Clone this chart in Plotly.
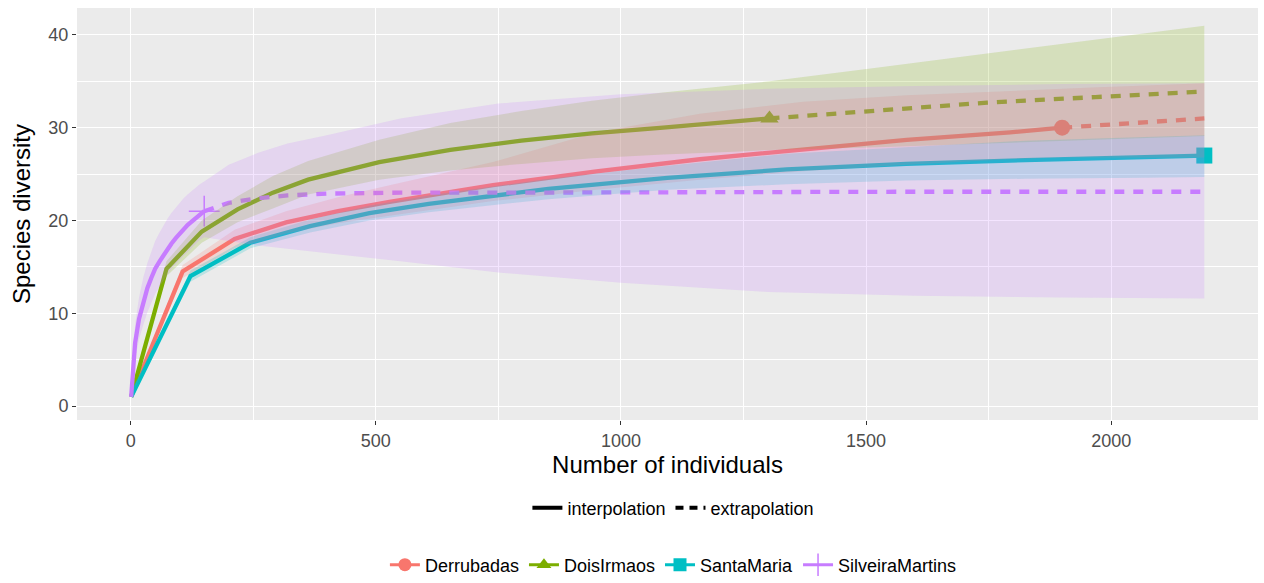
import plotly.graph_objects as go

names = ["Derrubadas", "DoisIrmaos", "SantaMaria", "SilveiraMartins"]
colors = ["#F8766D", "#7CAE00", "#00BFC4", "#C77CFF"]
fills = ["rgba(248,118,109,0.2)", "rgba(124,174,0,0.2)", "rgba(0,191,196,0.2)", "rgba(199,124,255,0.2)"]
symbols = ["circle", "triangle-up", "square", "cross-thin"]

# Derrubadas
d_x_int = [1, 106, 212, 317, 423, 528, 739, 950, 1161, 1372, 1583, 1794, 1900]
d_y_int = [1, 14.5, 18.0, 19.8, 21.0, 22.0, 23.8, 25.3, 26.6, 27.7, 28.7, 29.5, 30.0]
d_lo_int = [1, 13.8, 17.0, 18.6, 19.7, 20.5, 22.1, 23.3, 24.4, 25.3, 26.0, 26.6, 26.8]
d_hi_int = [1, 15.2, 19.0, 21.0, 22.5, 23.8, 26.3, 29.5, 31.5, 32.8, 33.5, 34.0, 34.2]
d_x_ext = [1900, 1973, 2045, 2118, 2190]
d_y_ext = [30.0, 30.25, 30.5, 30.75, 31.0]
d_lo_ext = [26.8, 26.8, 26.8, 26.8, 26.8]
d_hi_ext = [34.2, 34.35, 34.5, 34.65, 34.8]

# DoisIrmaos
g_x_int = [1, 73, 145, 218, 290, 362, 507, 652, 797, 941, 1086, 1231, 1303]
g_y_int = [1, 14.8, 18.8, 21.2, 23.0, 24.4, 26.3, 27.6, 28.6, 29.4, 30.0, 30.6, 31.0]
g_lo_int = [1, 14.0, 17.6, 19.8, 21.3, 22.8, 24.4, 25.4, 26.1, 26.7, 27.1, 27.4, 27.6]
g_hi_int = [1, 15.6, 20.0, 22.6, 24.8, 26.4, 28.7, 30.5, 31.8, 32.9, 33.8, 34.6, 35.0]
g_x_ext = [1303, 1525, 1747, 1968, 2190]
g_y_ext = [31.0, 31.9, 32.7, 33.3, 33.9]
g_lo_ext = [27.6, 27.9, 28.3, 28.7, 29.1]
g_hi_ext = [35.0, 36.5, 38.0, 39.5, 41.0]

# SantaMaria
c_x_int = [1, 122, 244, 366, 487, 608, 852, 1095, 1338, 1582, 1825, 2068, 2190]
c_y_int = [1, 14.0, 17.6, 19.4, 20.8, 21.8, 23.4, 24.6, 25.5, 26.1, 26.5, 26.8, 27.0]
c_lo_int = [1, 13.4, 17.0, 18.7, 20.0, 20.9, 22.3, 23.3, 23.9, 24.3, 24.5, 24.6, 24.7]
c_hi_int = [1, 14.6, 18.2, 20.1, 21.6, 22.7, 24.5, 25.9, 27.2, 27.9, 28.6, 29.0, 29.2]

# SilveiraMartins
p_x_int = [1, 9, 17, 26, 34, 42, 50, 59, 67, 75, 83, 92, 100, 108, 116, 125, 133, 141, 150]
p_y_int = [1, 6.8, 9.4, 11.3, 12.7, 13.8, 14.8, 15.6, 16.3, 16.9, 17.5, 18.1, 18.6, 19.1, 19.5, 19.9, 20.3, 20.7, 21.0]
p_lo_int = [1, 5.0, 7.2, 8.8, 10.1, 11.1, 12.1, 12.9, 13.6, 14.2, 14.8, 15.3, 15.8, 16.3, 16.7, 17.1, 17.5, 17.9, 18.2]
p_hi_int = [1, 8.8, 11.7, 13.9, 15.4, 16.7, 17.8, 18.7, 19.5, 20.2, 20.8, 21.4, 21.9, 22.4, 22.8, 23.2, 23.6, 23.9, 24.2]
p_x_ext = [150, 200, 260, 320, 400, 550, 750, 1000, 1300, 1600, 1900, 2190]
p_y_ext = [21.0, 21.9, 22.4, 22.7, 22.9, 23.0, 23.0, 23.05, 23.05, 23.1, 23.1, 23.1]
p_lo_ext = [18.2, 17.8, 17.3, 17.0, 16.5, 15.6, 14.4, 13.3, 12.3, 11.9, 11.7, 11.6]
p_hi_ext = [24.2, 26.0, 27.3, 28.3, 29.2, 31.0, 32.6, 33.6, 34.2, 34.5, 34.7, 34.8]

series = [
    (d_x_int, d_y_int, d_lo_int, d_hi_int, d_x_ext, d_y_ext, d_lo_ext, d_hi_ext),
    (g_x_int, g_y_int, g_lo_int, g_hi_int, g_x_ext, g_y_ext, g_lo_ext, g_hi_ext),
    (c_x_int, c_y_int, c_lo_int, c_hi_int, [], [], [], []),
    (p_x_int, p_y_int, p_lo_int, p_hi_int, p_x_ext, p_y_ext, p_lo_ext, p_hi_ext),
]

fig = go.Figure()

# lines
for i, s in enumerate(series):
    xi, yi, loi, hii, xe, ye, loe, hie = s
    fig.add_trace(go.Scatter(x=xi, y=yi, mode="lines", line=dict(color=colors[i], width=4.3),
                             showlegend=False, hoverinfo="skip"))
    if xe:
        fig.add_trace(go.Scatter(x=xe, y=ye, mode="lines", line=dict(color=colors[i], width=4.3, dash="10px,9px"),
                                 showlegend=False, hoverinfo="skip"))
# observed points
for i, s in enumerate(series):
    xi, yi = s[0], s[1]
    if symbols[i] == "cross-thin":
        mk = dict(symbol="cross-thin", size=22, line=dict(color=colors[i], width=1.5), color=colors[i])
    else:
        mk = dict(symbol=symbols[i], size=16, color=colors[i])
    fig.add_trace(go.Scatter(x=[xi[-1]], y=[yi[-1]], mode="markers", marker=mk, showlegend=False, hoverinfo="skip"))
# ribbons on top
for i, s in enumerate(series):
    xi, yi, loi, hii, xe, ye, loe, hie = s
    xs = xi + xe[1:]
    lo = loi + loe[1:]
    hi = hii + hie[1:]
    fig.add_trace(go.Scatter(x=xs + xs[::-1], y=hi + lo[::-1], fill="toself", fillcolor=fills[i],
                             line=dict(width=0), mode="lines", showlegend=False, hoverinfo="skip"))

# legend entries
for i in range(4):
    if symbols[i] == "cross-thin":
        mk = dict(symbol="cross-thin", size=18, line=dict(color=colors[i], width=1.5), color=colors[i])
    else:
        mk = dict(symbol=symbols[i], size=13, color=colors[i])
    fig.add_trace(go.Scatter(x=[None], y=[None], mode="lines+markers", name=names[i],
                             line=dict(color=colors[i], width=3), marker=mk, legend="legend"))
fig.add_trace(go.Scatter(x=[None], y=[None], mode="lines", name="interpolation",
                         line=dict(color="black", width=4), legend="legend2"))
fig.add_trace(go.Scatter(x=[None], y=[None], mode="lines", name="extrapolation",
                         line=dict(color="black", width=4, dash="8px,6px"), legend="legend2"))

fig.update_layout(
    width=1264, height=583,
    margin=dict(l=77, r=6, t=8, b=163),
    paper_bgcolor="white", plot_bgcolor="#EBEBEB",
    font=dict(family="Liberation Sans, Arial, sans-serif", color="black"),
    xaxis=dict(range=[-109.5, 2299.5], tickvals=[0, 500, 1000, 1500, 2000], showgrid=True, automargin=False,
               gridcolor="white", gridwidth=1.3, zeroline=False, ticks="outside", ticklen=4,
               tickcolor="#333333", tickfont=dict(size=18, color="#4D4D4D"),
               minor=dict(tickvals=[250, 750, 1250, 1750], showgrid=True, gridcolor="white", gridwidth=0.6, ticks=""),
               title=dict(text="Number of individuals", font=dict(size=24), standoff=6)),
    yaxis=dict(range=[-1.5, 42.9], tickvals=[0, 10, 20, 30, 40], showgrid=True, automargin=False,
               gridcolor="white", gridwidth=1.3, zeroline=False, ticks="outside", ticklen=4,
               tickcolor="#333333", tickfont=dict(size=18, color="#4D4D4D"),
               minor=dict(tickvals=[5, 15, 25, 35], showgrid=True, gridcolor="white", gridwidth=0.6, ticks=""),
               title=dict(text="Species diversity", font=dict(size=24), standoff=10)),
    legend=dict(orientation="h", x=0.505, xanchor="center", yref="container", y=0.0309, yanchor="middle",
                font=dict(size=18), itemwidth=30, tracegroupgap=0, itemclick=False),
    legend2=dict(orientation="h", x=0.505, xanchor="center", yref="container", y=0.1286, yanchor="middle",
                 font=dict(size=18), itemwidth=30, itemclick=False),
)

fig.write_html("out.html", config={"displayModeBar": False},
               post_script="document.body.style.margin='0px';")
